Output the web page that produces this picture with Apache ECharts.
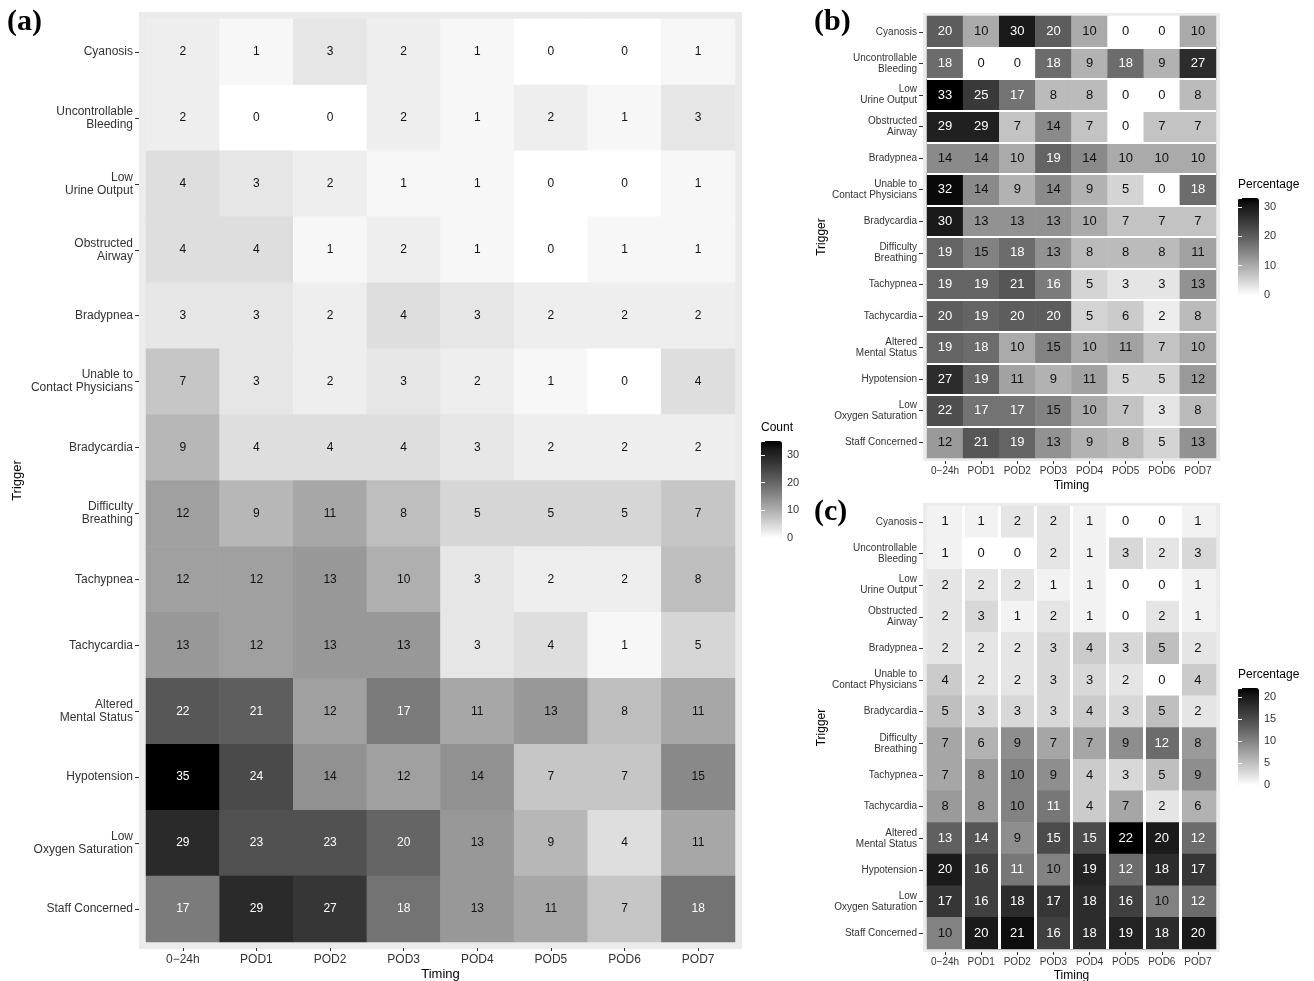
<!DOCTYPE html>
<html>
<head>
<meta charset="utf-8">
<script src="https://cdn.jsdelivr.net/npm/echarts@6/dist/echarts.min.js"></script>
<style>
  html, body { margin: 0; padding: 0; background: #fff; }
  #chart { width: 1314px; height: 981px; }
</style>
</head>
<body>
<div id="chart"></div>
<script>
// categories
const timing = ['0\u221224h', 'POD1', 'POD2', 'POD3', 'POD4', 'POD5', 'POD6', 'POD7'];
const triggers = [
  'Cyanosis', 'Uncontrollable\nBleeding', 'Low\nUrine Output', 'Obstructed\nAirway',
  'Bradypnea', 'Unable to\nContact Physicians', 'Bradycardia', 'Difficulty\nBreathing',
  'Tachypnea', 'Tachycardia', 'Altered\nMental Status', 'Hypotension',
  'Low\nOxygen Saturation', 'Staff Concerned'
];

// (a) counts, one row per trigger, one column per timing
const countA = [
  [2, 1, 3, 2, 1, 0, 0, 1],
  [2, 0, 0, 2, 1, 2, 1, 3],
  [4, 3, 2, 1, 1, 0, 0, 1],
  [4, 4, 1, 2, 1, 0, 1, 1],
  [3, 3, 2, 4, 3, 2, 2, 2],
  [7, 3, 2, 3, 2, 1, 0, 4],
  [9, 4, 4, 4, 3, 2, 2, 2],
  [12, 9, 11, 8, 5, 5, 5, 7],
  [12, 12, 13, 10, 3, 2, 2, 8],
  [13, 12, 13, 13, 3, 4, 1, 5],
  [22, 21, 12, 17, 11, 13, 8, 11],
  [35, 24, 14, 12, 14, 7, 7, 15],
  [29, 23, 23, 20, 13, 9, 4, 11],
  [17, 29, 27, 18, 13, 11, 7, 18]
];

// (b) percentage within trigger
const pctB = [
  [20, 10, 30, 20, 10, 0, 0, 10],
  [18, 0, 0, 18, 9, 18, 9, 27],
  [33, 25, 17, 8, 8, 0, 0, 8],
  [29, 29, 7, 14, 7, 0, 7, 7],
  [14, 14, 10, 19, 14, 10, 10, 10],
  [32, 14, 9, 14, 9, 5, 0, 18],
  [30, 13, 13, 13, 10, 7, 7, 7],
  [19, 15, 18, 13, 8, 8, 8, 11],
  [19, 19, 21, 16, 5, 3, 3, 13],
  [20, 19, 20, 20, 5, 6, 2, 8],
  [19, 18, 10, 15, 10, 11, 7, 10],
  [27, 19, 11, 9, 11, 5, 5, 12],
  [22, 17, 17, 15, 10, 7, 3, 8],
  [12, 21, 19, 13, 9, 8, 5, 13]
];

// (c) percentage within timing
const pctC = [
  [1, 1, 2, 2, 1, 0, 0, 1],
  [1, 0, 0, 2, 1, 3, 2, 3],
  [2, 2, 2, 1, 1, 0, 0, 1],
  [2, 3, 1, 2, 1, 0, 2, 1],
  [2, 2, 2, 3, 4, 3, 5, 2],
  [4, 2, 2, 3, 3, 2, 0, 4],
  [5, 3, 3, 3, 4, 3, 5, 2],
  [7, 6, 9, 7, 7, 9, 12, 8],
  [7, 8, 10, 9, 4, 3, 5, 9],
  [8, 8, 10, 11, 4, 7, 2, 6],
  [13, 14, 9, 15, 15, 22, 20, 12],
  [20, 16, 11, 10, 19, 12, 18, 17],
  [17, 16, 18, 17, 18, 16, 10, 12],
  [10, 20, 21, 16, 18, 19, 18, 20]
];

// colour bar tick labels
const ticksA = [0, 10, 20, 30];
const ticksB = [0, 10, 20, 30];
const ticksC = [0, 5, 10, 15, 20];

const FONT = 'Liberation Sans, Arial, sans-serif';

// white -> black ramp, even steps in lightness like ggplot's gradient
function greyRamp(n) {
  const out = [];
  for (let i = 0; i < n; i++) {
    const L = 100 * (1 - i / (n - 1));
    const fy = (L + 16) / 116;
    const Y = L > 8 ? fy * fy * fy : L / 903.3;
    const c = Y <= 0.0031308 ? 12.92 * Y : 1.055 * Math.pow(Y, 1 / 2.4) - 0.055;
    const v = Math.round(Math.max(0, Math.min(1, c)) * 255);
    out.push('rgb(' + v + ',' + v + ',' + v + ')');
  }
  return out;
}
const ramp = greyRamp(15);

const panels = [
  {
    values: countA, max: 35, step: 10, ticks: ticksA, legendTitle: 'Count',
    bg: { left: 139, top: 12, width: 603, height: 937 },
    grid: { left: 146, top: 19, width: 589, height: 923 },
    offX: 6, offY: 7, labelSize: 12, lineH: 13, cellSize: 12, nameSize: 13,
    xMargin: 6, xNameGap: 20, yNameGap: 115, gapAxis: null,
    legend: { left: 761, top: 441, titleTop: 422 }
  },
  {
    values: pctB, max: 33, step: 10, ticks: ticksB, legendTitle: 'Percentage',
    bg: { left: 923, top: 13, width: 297, height: 448 },
    grid: { left: 927, top: 16, width: 289, height: 442 },
    offX: 3, offY: 4, labelSize: 10, lineH: 11, cellSize: 13, nameSize: 12,
    xMargin: 5, xNameGap: 19, yNameGap: 95, gapAxis: 'y',
    legend: { left: 1238, top: 198, titleTop: 179 }
  },
  {
    values: pctC, max: 22, step: 5, ticks: ticksC, legendTitle: 'Percentage',
    bg: { left: 923, top: 503, width: 297, height: 449 },
    grid: { left: 927, top: 506, width: 289, height: 443 },
    offX: 3, offY: 4, labelSize: 10, lineH: 11, cellSize: 13, nameSize: 12,
    xMargin: 5, xNameGap: 18, yNameGap: 95, gapAxis: 'x',
    legend: { left: 1238, top: 688, titleTop: 669 }
  }
];

const grids = [], xAxes = [], yAxes = [], series = [], visualMaps = [], titles = [];
const hiddenLine = { show: true, lineStyle: { color: 'rgba(0,0,0,0)' } };

// grey panel backgrounds
panels.forEach(function (p, i) {
  grids.push(Object.assign({ show: true, backgroundColor: '#EBEBEB', borderWidth: 0, outerBoundsMode: 'none' }, p.bg));
  xAxes.push({ gridIndex: i, type: 'value', show: false });
  yAxes.push({ gridIndex: i, type: 'value', show: false });
});

// heatmap grids
panels.forEach(function (p, i) {
  const g = 3 + i;
  grids.push(Object.assign({ show: false, outerBoundsMode: 'none' }, p.grid));
  const gapLine = { show: true, showMinLine: false, showMaxLine: false,
    lineStyle: { color: '#fff', width: p.gapAxis === 'x' ? 3 : 2 } };
  xAxes.push({
    gridIndex: g, type: 'category', data: timing, offset: p.offX,
    axisLine: hiddenLine,
    axisTick: { show: true, alignWithLabel: true, length: 3, lineStyle: { color: '#333' } },
    axisLabel: { fontFamily: FONT, fontSize: p.labelSize, color: '#333', margin: p.xMargin, interval: 0 },
    splitLine: p.gapAxis === 'x' ? gapLine : { show: false },
    z: p.gapAxis === 'x' ? 5 : 0,
    name: 'Timing', nameLocation: 'middle', nameGap: p.xNameGap, nameMoveOverlap: false,
    nameTextStyle: { fontFamily: FONT, fontSize: p.nameSize, color: '#000' }
  });
  yAxes.push({
    gridIndex: g, type: 'category', data: triggers, inverse: true, offset: p.offY,
    axisLine: hiddenLine,
    axisTick: { show: true, alignWithLabel: true, length: 4, lineStyle: { color: '#333' } },
    axisLabel: { fontFamily: FONT, fontSize: p.labelSize, lineHeight: p.lineH, color: '#333', margin: 6, interval: 0 },
    splitLine: p.gapAxis === 'y' ? gapLine : { show: false },
    z: p.gapAxis === 'y' ? 5 : 0,
    name: 'Trigger', nameLocation: 'middle', nameGap: p.yNameGap, nameMoveOverlap: false,
    nameTextStyle: { fontFamily: FONT, fontSize: p.nameSize, color: '#000' }
  });

  const data = [];
  p.values.forEach(function (row, r) {
    row.forEach(function (v, c) { data.push([c, r, v]); });
  });
  const limit = p.max * 0.47;
  series.push({
    type: 'heatmap', xAxisIndex: g, yAxisIndex: g, data: data,
    label: {
      show: true,
      formatter: function (pr) {
        return (pr.value[2] > limit ? '{w|' : '{k|') + pr.value[2] + '}';
      },
      rich: {
        w: { color: '#fff', fontSize: p.cellSize, fontFamily: FONT },
        k: { color: '#111', fontSize: p.cellSize, fontFamily: FONT }
      }
    },
    emphasis: { disabled: true }
  });

  visualMaps.push({
    type: 'continuous', seriesIndex: i, dimension: 2, min: 0, max: p.max,
    inRange: { color: ramp }, calculable: false, hoverLink: false,
    left: p.legend.left, top: p.legend.top, itemWidth: 21, itemHeight: 97, padding: 0
  });

  titles.push({
    text: p.legendTitle, left: p.legend.left, top: p.legend.titleTop, padding: 0,
    textStyle: { fontFamily: FONT, fontSize: 12, fontWeight: 'normal', color: '#000' }
  });
});

// colour bar tick axes
panels.forEach(function (p, i) {
  const g = 6 + i;
  grids.push({ show: false, outerBoundsMode: 'none', left: p.legend.left, top: p.legend.top, width: 21, height: 97 });
  xAxes.push({ gridIndex: g, type: 'value', show: false });
});
panels.forEach(function (p, i) {
  yAxes.push({
    gridIndex: 6 + i, type: 'value', min: 0, max: p.max, interval: p.step, position: 'right', z: 10,
    axisLine: hiddenLine, splitLine: { show: false },
    axisTick: { show: true, inside: true, length: 4, lineStyle: { color: '#fff' } },
    axisLabel: {
      fontFamily: FONT, fontSize: 11, color: '#333', margin: 5,
      formatter: function (v) { return p.ticks.indexOf(v) >= 0 ? String(v) : ''; }
    }
  });
});
panels.forEach(function (p, i) {
  yAxes.push({
    gridIndex: 6 + i, type: 'value', min: 0, max: p.max, interval: p.step, position: 'left', z: 10,
    axisLine: hiddenLine, splitLine: { show: false }, axisLabel: { show: false },
    axisTick: { show: true, inside: true, length: 4, lineStyle: { color: '#fff' } }
  });
});

// panel letters
const letterStyle = { fontFamily: 'Liberation Serif, Times New Roman, serif', fontWeight: 'bold', fontSize: 30, color: '#000' };
titles.push({ text: '(a)', left: 7, top: 7, padding: 0, textStyle: letterStyle });
titles.push({ text: '(b)', left: 814, top: 7, padding: 0, textStyle: letterStyle });
titles.push({ text: '(c)', left: 814, top: 497, padding: 0, textStyle: letterStyle });

const chart = echarts.init(document.getElementById('chart'));
chart.setOption({
  backgroundColor: '#fff',
  animation: false,
  title: titles,
  grid: grids,
  xAxis: xAxes,
  yAxis: yAxes,
  visualMap: visualMaps,
  series: series
});
</script>
</body>
</html>
